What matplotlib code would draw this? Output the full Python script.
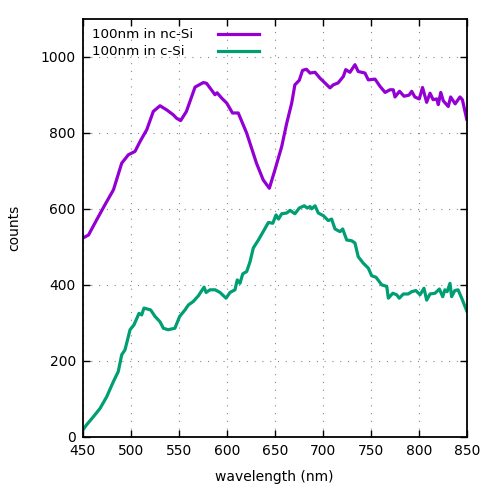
import matplotlib
matplotlib.use('Agg')
import matplotlib.pyplot as plt

# 100nm in nc-Si (purple)
wl_nc = [450, 456, 464.5, 473, 482, 490.6, 497.5, 504.5, 509.7, 516.7, 523.5, 530.5,
         537.5, 544.4, 547.8, 552, 558, 567, 575.6, 579, 587.8, 590, 594.8, 600, 606,
         612, 620.8, 631, 638, 644.4, 650.3, 657.3, 662.5, 667.7, 671, 675.6, 679,
         683, 686.8, 692, 697, 707.6, 711, 716, 721.5, 724, 728.4, 733.6, 737, 744,
         747.5, 754.5, 759.7, 765, 770, 773.5, 775.3, 780, 784.7, 790, 792.7, 796,
         800.6, 804, 808.3, 811.8, 815, 818.8, 820.4, 823, 825.6, 830.8, 833.3, 838,
         843, 845.5, 850]
cnt_nc = [523, 531, 571, 610, 650, 720, 742, 751, 777, 808, 856, 871,
          860, 847, 838, 832, 856, 920, 932, 930, 900, 905, 891, 878, 852,
          852, 799, 720, 676, 654, 703, 764, 825, 878, 926, 938, 964,
          967, 957, 959, 944, 918, 926, 931, 948, 966, 959, 979, 961, 957,
          939, 941, 922, 906, 913, 913, 894, 909, 896, 899, 909, 894,
          889, 919, 880, 904, 887, 889, 874, 906, 884, 869, 894, 876,
          894, 887, 836]

# 100nm in c-Si (green)
wl_c = [450, 454, 461, 468, 475, 482, 487, 490.6, 494, 499.3, 503.4, 508.6, 511.4,
        513.8, 520.8, 525.3, 530.5, 534, 539, 546, 551, 556.5, 560, 565, 570.4,
        576.4, 578.5, 582.6, 588, 593, 599.3, 603.4, 608.6, 611, 613.8, 616.7,
        620.8, 624.3, 627.7, 633, 638, 643.4, 648, 651.4, 653.9, 657.3, 662.5,
        666, 668.7, 671, 675.6, 680.8, 683.9, 686.8, 688.5, 692, 695.4, 700.6,
        705.8, 709.3, 712.8, 718, 720.8, 725, 730.2, 733.6, 737, 742.3, 747.5,
        751, 755.5, 761.5, 766.7, 768.4, 773, 777, 779.8, 784, 789, 792.7, 797,
        801.4, 805.5, 808.3, 811.8, 817, 821.5, 825, 827.3, 829.6, 832.6, 834.3,
        837.6, 841, 844.8, 850]
cnt_c = [18, 32, 53, 75, 106, 146, 172, 216, 229, 282, 295, 325, 321,
         339, 334, 317, 303, 286, 282, 286, 317, 334, 347, 356, 371,
         394, 380, 387, 387, 380, 365, 380, 387, 413, 404, 429,
         435, 461, 497, 518, 540, 564, 562, 584, 573, 587, 589,
         596, 591, 587, 602, 608, 602, 606, 600, 608, 589, 582,
         569, 573, 547, 540, 547, 518, 516, 510, 474, 457, 444,
         424, 420, 400, 396, 365, 378, 374, 365, 376, 376, 382, 385,
         374, 391, 360, 376, 378, 389, 369, 387, 382, 404, 369,
         385, 387, 365, 332]

labels = ['100nm in nc-Si', '100nm in c-Si']
colors = ['#9400d3', '#009e73']

plt.rcParams['font.family'] = 'DejaVu Sans'
fig = plt.figure(figsize=(4.91, 4.91), dpi=100)
ax = fig.add_axes([0.1685, 0.11, 0.782, 0.852])

ax.plot(wl_nc, cnt_nc, color=colors[0], lw=2.3, solid_joinstyle='round')
ax.plot(wl_c, cnt_c, color=colors[1], lw=2.3, solid_joinstyle='round')

ax.set_xlim(450, 850)
ax.set_ylim(0, 1100)
ax.set_xticks(range(450, 851, 50))
ax.set_yticks(range(0, 1001, 200))
ax.grid(True, color='#888888', linestyle=(0, (1, 6)), linewidth=0.8)
ax.tick_params(direction='in', length=5, width=1, top=True, right=True,
               labelsize=10, pad=5)
for s in ax.spines.values():
    s.set_linewidth(1.3)
ax.set_xlabel('wavelength (nm)', fontsize=10, labelpad=9)
ax.set_ylabel('counts', fontsize=10, labelpad=14)

# key, gnuplot style: text left, line sample right
for i, (lab, col) in enumerate(zip(labels, colors)):
    yk = 0.963 - i * 0.041
    ax.text(0.024, yk, lab, transform=ax.transAxes, fontsize=9.7, va='center', ha='left')
    ax.plot([0.352, 0.459], [yk, yk], transform=ax.transAxes, color=col, lw=2.3,
            clip_on=False)

fig.savefig('out.png', dpi=100)
